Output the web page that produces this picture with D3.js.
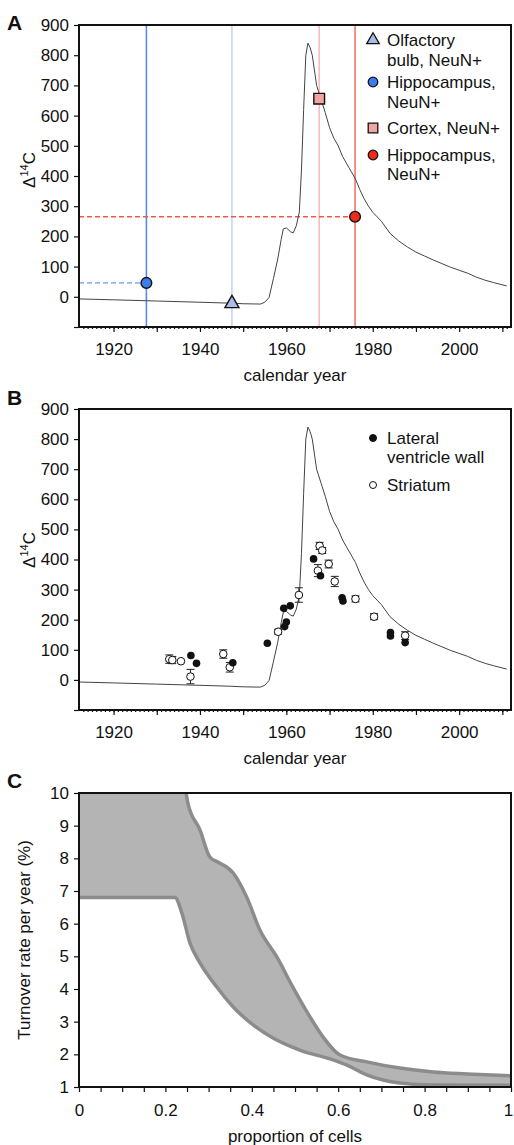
<!DOCTYPE html>
<html>
<head>
<meta charset="utf-8">
<script src="https://cdn.jsdelivr.net/npm/d3@7"></script>
<style>
body { margin: 0; background: #fff; }
svg text { font-family: "Liberation Sans", Arial, sans-serif; fill: #111; }
</style>
</head>
<body>
<div id="chart"></div>
<script>
const width = 514;
const height = 1145;

// atmospheric 14C record (panels A and B)
const curveYears = [1912, 1920, 1930, 1940, 1947, 1950, 1954, 1955, 1956, 1957, 1958, 1958.8, 1959.3, 1960, 1961, 1961.6, 1962.3, 1963,
  1963.5, 1964, 1964.5, 1965, 1965.5, 1966, 1967, 1968, 1969, 1970, 1971, 1972, 1973, 1974, 1975, 1976, 1977, 1978, 1979, 1980,
  1981, 1982, 1984, 1986, 1988, 1990, 1992, 1994, 1996, 1998, 2000, 2002, 2004, 2006, 2008, 2011];
const curveValues = [-7, -10, -14, -18, -21, -23, -24, -18, -2, 60, 125, 190, 225, 228, 215, 212, 235, 280,
  420, 620, 800, 840, 825, 800, 700, 655, 610, 560, 525, 500, 465, 440, 415, 390, 355, 325, 300, 280,
  265, 250, 210, 185, 165, 148, 135, 122, 110, 98, 88, 78, 65, 55, 47, 36];

// panel A samples
const sampleNames = ["Olfactory bulb, NeuN+", "Hippocampus, NeuN+", "Cortex, NeuN+", "Hippocampus, NeuN+"];
const sampleYears = [1947.4, 1927.6, 1967.6, 1975.9];
const sampleValues = [-19, 46, 656, 265];
const legendLinesA = [["Olfactory", "bulb, NeuN+"], ["Hippocampus,", "NeuN+"], ["Cortex, NeuN+"], ["Hippocampus,", "NeuN+"]];

// panel B: lateral ventricle wall (filled)
const lvwYears = [1937.9, 1939.2, 1947.6, 1955.6, 1959.4, 1960.9, 1960, 1959.6, 1966.3, 1967.9, 1972.9, 1973.1, 1984.1, 1984.1, 1987.5];
const lvwValues = [81, 55, 57, 122, 238, 246, 192, 177, 402, 346, 273, 262, 157, 146, 124];
// panel B: striatum (open, with error)
const strYears = [1932.9, 1933.6, 1935.6, 1937.8, 1945.4, 1946.9, 1958.1, 1962.9, 1967.7, 1968.3, 1967.3, 1969.8, 1971.2, 1976.0, 1980.3, 1987.5];
const strValues = [69, 66, 62, 11, 86, 42, 160, 282, 445, 430, 363, 385, 327, 269, 210, 147];
const strErrors = [14, 12, 0, 24, 14, 16, 8, 24, 12, 10, 20, 13, 17, 10, 10, 13];
const legendLinesB = [["Lateral", "ventricle wall"], ["Striatum"]];

// panel C: turnover rate band
const upperX = [0, 0.248, 0.252, 0.28, 0.303, 0.319, 0.34, 0.357, 0.388, 0.419, 0.458, 0.495, 0.535, 0.565, 0.604, 0.666, 0.743, 0.82, 0.898, 1.0];
const upperY = [10, 10, 9.69, 8.87, 8.04, 7.9, 7.75, 7.55, 6.82, 5.8, 4.98, 4.06, 3.14, 2.53, 1.98, 1.77, 1.58, 1.46, 1.40, 1.34];
const lowerX = [0, 0.222, 0.238, 0.257, 0.28, 0.319, 0.357, 0.403, 0.449, 0.511, 0.588, 0.62, 0.666, 0.743, 0.82, 1.0];
const lowerY = [6.8, 6.8, 6.33, 5.4, 4.8, 4.06, 3.45, 2.9, 2.5, 2.13, 1.83, 1.67, 1.37, 1.12, 1.06, 1.05];

const svg = d3.select("#chart")
  .append("svg")
  .attr("width", width)
  .attr("height", height);

const fontFam = '"Liberation Sans", Arial, sans-serif';

function styleAxis(g) {
  g.select(".domain").remove();
  g.attr("font-size", 17).attr("font-family", fontFam);
  g.selectAll(".tick line").attr("stroke", "#111").attr("stroke-width", 1.2);
  g.selectAll(".tick text").attr("fill", "#111");
}

function frame(x, y, w, h) {
  svg.append("rect")
    .attr("x", x).attr("y", y).attr("width", w).attr("height", h)
    .attr("fill", "none").attr("stroke", "#111").attr("stroke-width", 2);
}

function panelLetter(t, y) {
  svg.append("text").attr("x", 7).attr("y", y)
    .attr("font-size", 21).attr("font-weight", "bold").text(t);
}

function d14cLabel(cy) {
  const t = svg.append("text")
    .attr("transform", `translate(35,${cy}) rotate(-90)`)
    .attr("text-anchor", "middle")
    .attr("font-size", 17);
  t.append("tspan").text("Δ");
  t.append("tspan").attr("font-size", 11).attr("dy", -7).text("14");
  t.append("tspan").attr("dy", 7).text("C");
}

function yearAxes(x, y, bottom) {
  svg.append("g").attr("transform", `translate(79,0)`)
    .call(d3.axisLeft(y).tickValues(d3.range(-100, 901, 100)).tickSize(5).tickPadding(5)
      .tickFormat(d => d < 0 ? "" : d))
    .call(styleAxis);
  svg.append("g").attr("transform", `translate(0,${bottom})`)
    .call(d3.axisBottom(x).tickValues(d3.range(1913, 2012, 1)).tickSize(2).tickFormat(""))
    .call(styleAxis);
  svg.append("g").attr("transform", `translate(0,${bottom})`)
    .call(d3.axisBottom(x).tickValues(d3.range(1920, 2011, 10)).tickSize(5).tickPadding(11)
      .tickFormat(d => d % 20 === 0 ? d : ""))
    .call(styleAxis);
  svg.append("text").attr("x", 295).attr("y", bottom + 54)
    .attr("text-anchor", "middle").attr("font-size", 17).text("calendar year");
}

const curveData = curveYears.map((d, i) => [d, curveValues[i]]);

// ---------- Panel A ----------
const xA = d3.scaleLinear().domain([1912, 2012]).range([79, 511]);
const yA = d3.scaleLinear().domain([-100, 900]).range([327, 25]);

const lineColors = ["#c6d4f6", "#5a8cef", "#f8bcbc", "#f07870"];
const dashColors = [null, "#6d9bf0", null, "#f2564b"];
const markFill = ["#a9bcec", "#3b7cee", "#f4a3a3", "#ef2a17"];
const markShape = [d3.symbolTriangle, d3.symbolCircle, d3.symbolSquare, d3.symbolCircle];
const markSize = [85, 90, 115, 90];

sampleYears.forEach(function(yr, i) {
  svg.append("line")
    .attr("x1", xA(yr)).attr("x2", xA(yr)).attr("y1", 25).attr("y2", 327)
    .attr("stroke", lineColors[i]).attr("stroke-width", 1.6);
  if (dashColors[i]) {
    svg.append("line")
      .attr("x1", 79).attr("x2", xA(yr)).attr("y1", yA(sampleValues[i])).attr("y2", yA(sampleValues[i]))
      .attr("stroke", dashColors[i]).attr("stroke-width", 1.4).attr("stroke-dasharray", "5,3");
  }
});

svg.append("path")
  .datum(curveData)
  .attr("d", d3.line().x(d => xA(d[0])).y(d => yA(d[1])))
  .attr("fill", "none").attr("stroke", "#444").attr("stroke-width", 1);

sampleYears.forEach(function(yr, i) {
  svg.append("path")
    .attr("d", d3.symbol().type(markShape[i]).size(markSize[i])())
    .attr("transform", `translate(${xA(yr)},${yA(sampleValues[i]) + (i === 0 ? 1 : 0)})`)
    .attr("fill", markFill[i]).attr("stroke", "#111").attr("stroke-width", 1.4);
});

// legend A
const legendYA = [[40, 60], [82, 102], [128], [155, 174]];
legendLinesA.forEach(function(lines, i) {
  svg.append("path")
    .attr("d", d3.symbol().type(markShape[i]).size(markSize[i] * 0.8)())
    .attr("transform", `translate(373,${legendYA[i][0]})`)
    .attr("fill", markFill[i]).attr("stroke", "#111").attr("stroke-width", 1.3);
  lines.forEach(function(l, j) {
    svg.append("text").attr("x", 387).attr("y", legendYA[i][j] + 6)
      .attr("font-size", 17).text(l);
  });
});

frame(79, 25, 432, 302);
yearAxes(xA, yA, 327);
d14cLabel(170);
panelLetter("A", 30);

// ---------- Panel B ----------
const xB = d3.scaleLinear().domain([1912, 2012]).range([79, 511]);
const yB = d3.scaleLinear().domain([-100, 900]).range([710, 409]);

svg.append("path")
  .datum(curveData)
  .attr("d", d3.line().x(d => xB(d[0])).y(d => yB(d[1])))
  .attr("fill", "none").attr("stroke", "#444").attr("stroke-width", 1);

// error bars
strYears.forEach(function(yr, i) {
  if (strErrors[i] === 0) return;
  const x = xB(yr);
  const y1 = yB(strValues[i] - strErrors[i]);
  const y2 = yB(strValues[i] + strErrors[i]);
  svg.append("line").attr("x1", x).attr("x2", x).attr("y1", y1).attr("y2", y2)
    .attr("stroke", "#222").attr("stroke-width", 1);
  [y1, y2].forEach(function(yy) {
    svg.append("line").attr("x1", x - 4).attr("x2", x + 4).attr("y1", yy).attr("y2", yy)
      .attr("stroke", "#222").attr("stroke-width", 1);
  });
});

svg.append("g").selectAll("circle")
  .data(strYears.map((d, i) => [d, strValues[i]]))
  .enter().append("circle")
  .attr("cx", d => xB(d[0])).attr("cy", d => yB(d[1])).attr("r", 3.8)
  .attr("fill", "#fff").attr("stroke", "#111").attr("stroke-width", 1);

svg.append("g").selectAll("circle")
  .data(lvwYears.map((d, i) => [d, lvwValues[i]]))
  .enter().append("circle")
  .attr("cx", d => xB(d[0])).attr("cy", d => yB(d[1])).attr("r", 3.8)
  .attr("fill", "#111");

// legend B
const legendYB = [[438, 457], [485]];
legendLinesB.forEach(function(lines, i) {
  svg.append("circle").attr("cx", 373).attr("cy", legendYB[i][0]).attr("r", 3.5)
    .attr("fill", i === 0 ? "#111" : "#fff").attr("stroke", "#111").attr("stroke-width", 1);
  lines.forEach(function(l, j) {
    svg.append("text").attr("x", 387).attr("y", legendYB[i][j] + 6)
      .attr("font-size", 17).text(l);
  });
});

frame(79, 409, 432, 301);
yearAxes(xB, yB, 710);
d14cLabel(550);
panelLetter("B", 405);

// ---------- Panel C ----------
const xC = d3.scaleLinear().domain([0, 1]).range([79, 511]);
const yC = d3.scaleLinear().domain([1, 10]).range([1087, 793]);

const upperPts = upperX.map((d, i) => [d, upperY[i]]);
const lowerPts = lowerX.map((d, i) => [d, lowerY[i]]);
const lineC = d3.line().x(d => xC(d[0])).y(d => yC(d[1])).curve(d3.curveMonotoneX);
const lineCrev = d3.line().x(d => xC(d[0])).y(d => yC(d[1])).curve(d3.curveMonotoneX);

svg.append("clipPath").attr("id", "clipC")
  .append("rect").attr("x", 79).attr("y", 793).attr("width", 432).attr("height", 294);

// band = area between the two bounds
const bandPath = lineC(upperPts) + "L" + lineCrev(lowerPts.slice().reverse()).slice(1) + "Z";
const gC = svg.append("g").attr("clip-path", "url(#clipC)");
gC.append("path")
  .attr("d", bandPath)
  .attr("fill", "#b4b4b4");
gC.append("path")
  .attr("d", lineC(upperPts.slice(1)))
  .attr("fill", "none").attr("stroke", "#8c8c8c").attr("stroke-width", 3.5);
gC.append("path")
  .attr("d", lineC(lowerPts))
  .attr("fill", "none").attr("stroke", "#8c8c8c").attr("stroke-width", 3.5);

frame(79, 793, 432, 294);

svg.append("g").attr("transform", "translate(79,0)")
  .call(d3.axisLeft(yC).tickValues(d3.range(1, 11)).tickSize(5).tickPadding(5))
  .call(styleAxis);
const xAxisC = svg.append("g").attr("transform", "translate(0,1087)")
  .call(d3.axisBottom(xC).tickValues(d3.range(0, 21).map(d => d / 20)).tickSize(5).tickPadding(12)
    .tickFormat((d, i) => i % 4 === 0 ? d3.format("")(+d.toFixed(2)) : ""))
  .call(styleAxis);
xAxisC.selectAll(".tick text").filter(d => d === 1).attr("dx", -3);

svg.append("text").attr("x", 295).attr("y", 1142)
  .attr("text-anchor", "middle").attr("font-size", 17).text("proportion of cells");
svg.append("text")
  .attr("transform", "translate(30,940) rotate(-90)")
  .attr("text-anchor", "middle").attr("font-size", 17)
  .text("Turnover rate per year (%)");
panelLetter("C", 788);
</script>
</body>
</html>
